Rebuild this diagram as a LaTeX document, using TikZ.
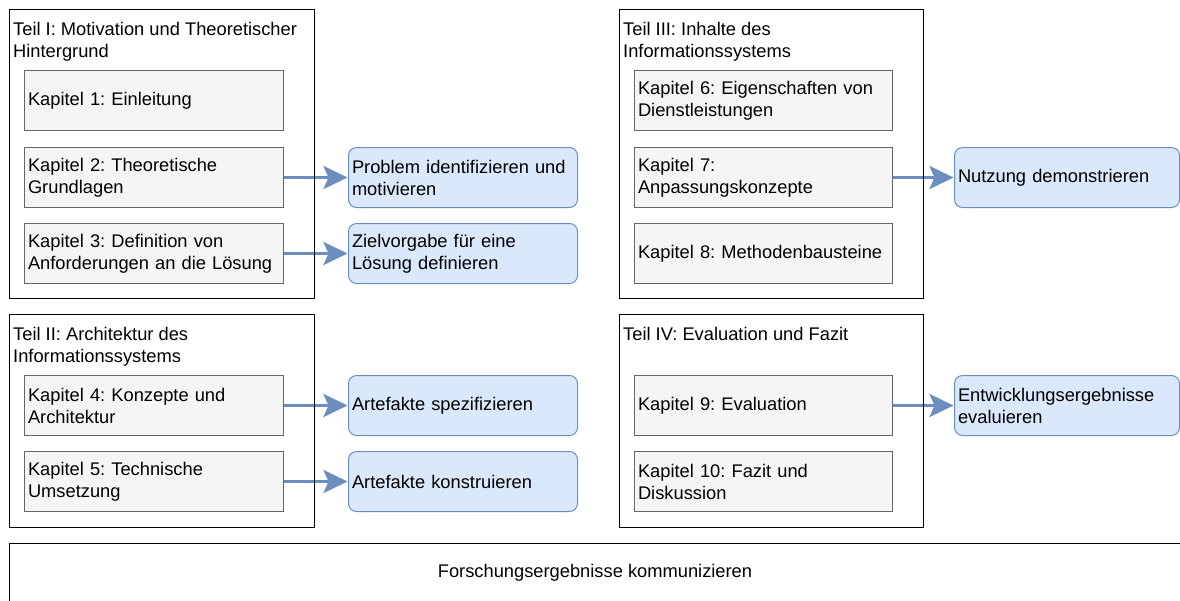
\documentclass[tikz,border=0pt]{standalone}
\usepackage{fontspec}
\setmainfont{Liberation Sans}
\usetikzlibrary{arrows.meta}
\frenchspacing
\pgfdeclarelayer{frames}
\pgfsetlayers{main,frames}
\definecolor{chapfill}{HTML}{F5F5F5}
\definecolor{chapline}{HTML}{666666}
\definecolor{stepfill}{HTML}{DAE8FC}
\definecolor{stepline}{HTML}{6C8EBF}
\tikzset{
  part/.style={draw=black, line width=1.3pt, minimum width=305pt, minimum height=289pt,
    anchor=north west, inner sep=0pt},
  parttitle/.style={anchor=north west, inner sep=0pt, align=left},
  chapter/.style={draw=chapline, fill=chapfill, line width=1pt, text width=252pt,
    inner xsep=3.5pt, inner ysep=0pt, minimum height=60pt, align=left, anchor=north west},
  dsrstep/.style={draw=stepline, fill=stepfill, line width=1pt, rounded corners=8pt,
    inner xsep=3.5pt, inner ysep=0pt, minimum height=60pt, align=left, anchor=north west},
  link/.style={draw=stepline, line width=3.5pt,
    -{Stealth[length=24pt, width=23pt, inset=5pt]}, shorten >=0.5pt},
}
\begin{document}
\begin{tikzpicture}[x=1pt, y=-1pt, font=\fontsize{18.3}{22}\selectfont]
\useasboundingbox (0,0) rectangle (1180,600);

% Part frames, drawn above the links
\begin{pgfonlayer}{frames}
\node[part] (t1) at (9,9) {};
\node[part, minimum height=213pt] (t2) at (9,314) {};
\node[part, minimum width=304pt] (t3) at (619,9) {};
\node[part, minimum width=304pt, minimum height=213pt] (t4) at (619,314) {};
\end{pgfonlayer}

% Part I
\node[parttitle] (t1title) at (13,22) {Teil I: Motivation und Theoretischer\\Hintergrund};
\node[chapter] (k1) at (24,70)  {Kapitel 1: Einleitung};
\node[chapter] (k2) at (24,147) {Kapitel 2: Theoretische\\Grundlagen};
\node[chapter] (k3) at (24,223) {Kapitel 3: Definition von\\Anforderungen an die Lösung};

% Part II
\node[parttitle] (t2title) at (13,327) {Teil II: Architektur des\\Informationssystems};
\node[chapter] (k4) at (24,375) {Kapitel 4: Konzepte und\\Architektur};
\node[chapter] (k5) at (24,451) {Kapitel 5: Technische\\Umsetzung};

% Part III
\node[parttitle] (t3title) at (623,22) {Teil III: Inhalte des\\Informationssystems};
\node[chapter, text width=251pt] (k6) at (634,70)  {Kapitel 6: Eigenschaften von\\Dienstleistungen};
\node[chapter, text width=251pt] (k7) at (634,147) {Kapitel 7:\\Anpassungskonzepte};
\node[chapter, text width=251pt] (k8) at (634,223) {Kapitel 8: Methodenbausteine};

% Part IV
\node[parttitle] (t4title) at (623,327) {Teil IV: Evaluation und Fazit};
\node[chapter, text width=251pt] (k9)  at (634,375) {Kapitel 9: Evaluation};
\node[chapter, text width=251pt] (k10) at (634,451) {Kapitel 10: Fazit und\\Diskussion};

% Design science activities
\node[dsrstep, text width=222pt] (s1) at (348,147) {Problem identifizieren und\\motivieren};
\node[dsrstep, text width=222pt] (s2) at (348,223) {Zielvorgabe für eine\\Lösung definieren};
\node[dsrstep, text width=222pt] (s3) at (348,375) {Artefakte spezifizieren};
\node[dsrstep, text width=222pt] (s4) at (348,451) {Artefakte konstruieren};
\node[dsrstep, text width=218pt] (s5) at (954,147) {Nutzung demonstrieren};
\node[dsrstep, text width=218pt] (s6) at (954,375) {Entwicklungsergebnisse\\evaluieren};

% Communication
\node[draw=black, line width=1.3pt, minimum width=1173pt, minimum height=60pt,
  anchor=north west, inner sep=0pt] (komm) at (9,543) {};
\node (kommtext) at (595,573) {Forschungsergebnisse kommunizieren};

% Links
\draw[link] (k2.east) -- (s1.west);
\draw[link] (k3.east) -- (s2.west);
\draw[link] (k4.east) -- (s3.west);
\draw[link] (k5.east) -- (s4.west);
\draw[link] (k7.east) -- (s5.west);
\draw[link] (k9.east) -- (s6.west);
\end{tikzpicture}
\end{document}
